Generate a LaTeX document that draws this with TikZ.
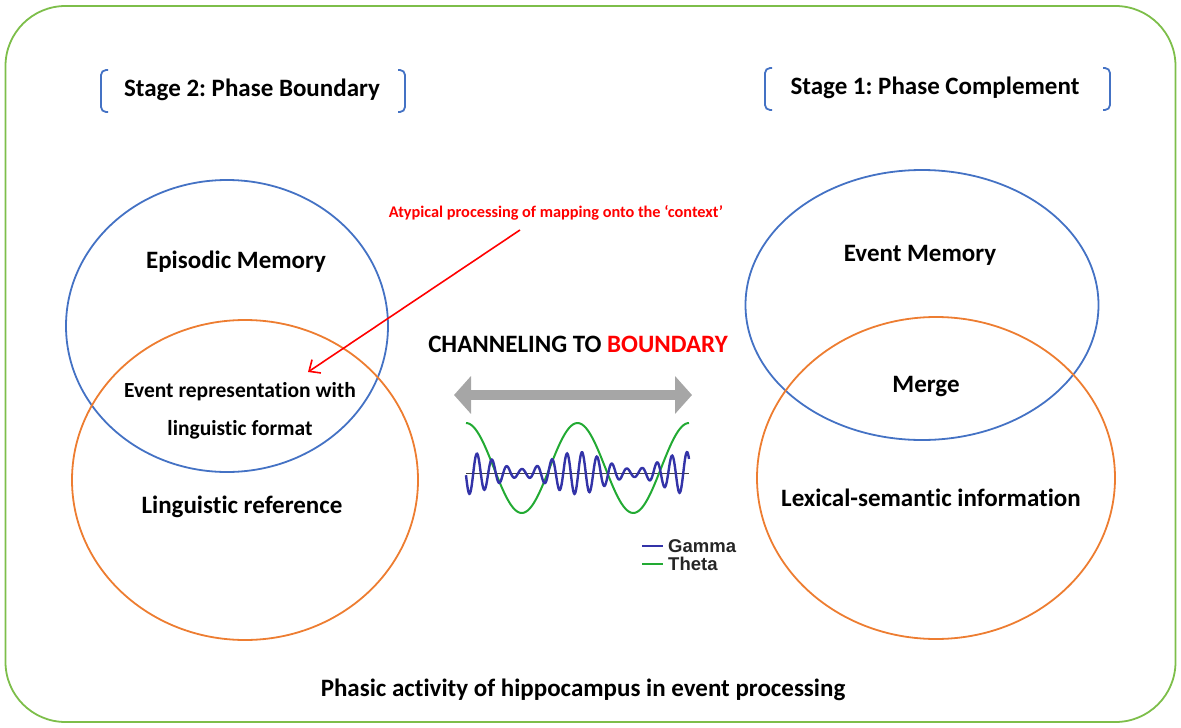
\documentclass[tikz,border=0pt]{standalone}
\usepackage{fontspec}
\setmainfont{Carlito}[Ligatures=NoCommon]
\newfontfamily\arialf{Liberation Sans}
\usetikzlibrary{arrows.meta,shapes.geometric}
\definecolor{obox}{HTML}{7DBE4A}
\definecolor{cblue}{HTML}{4472C4}
\definecolor{corange}{HTML}{ED7D31}
\definecolor{cgray}{HTML}{A6A6A6}
\definecolor{gammac}{HTML}{3333A8}
\definecolor{thetac}{HTML}{22AA33}
\frenchspacing
\begin{document}
\begin{tikzpicture}[x=1pt,y=-1pt,
  bluering/.style={ellipse,draw=cblue,line width=1.8pt},
  orangering/.style={ellipse,draw=corange,line width=1.8pt},
  lbl/.style={font=\bfseries\fontsize{25}{30}\selectfont,align=center},
  smalllbl/.style={font=\bfseries\fontsize{21.5}{25}\selectfont,align=center},
  brk/.style={draw=cblue,line width=1.8pt,rounded corners=5pt},
  legtxt/.style={font=\arialf\bfseries\fontsize{18.5}{20}\selectfont,text=black!85,anchor=west,inner sep=0pt}]
\useasboundingbox (0,0) rectangle (1181,728);
% outer frame
\node[draw=obox,line width=1.8pt,rounded corners=60pt,minimum width=1170pt,minimum height=716pt,inner sep=0pt] (frame) at (590.5,364) {};
% headings
\node[lbl] (st2) at (252,90) {Stage 2: Phase Boundary};
\draw[brk] (108,70) -- (101,70) -- (101,112) -- (108,112);
\draw[brk] (398,70) -- (405,70) -- (405,112) -- (398,112);
\node[lbl] (st1) at (935,88) {Stage 1: Phase Complement};
\draw[brk] (772,68) -- (765,68) -- (765,110) -- (772,110);
\draw[brk] (1103,68) -- (1110,68) -- (1110,110) -- (1103,110);
% ellipses
\node[bluering,minimum width=322pt,minimum height=292pt] (epi) at (227,326) {};
\node[orangering,minimum width=346pt,minimum height=320pt] (lingc) at (245,480) {};
\node[bluering,minimum width=353pt,minimum height=270pt] (evm) at (922,305) {};
\node[orangering,minimum width=358pt,minimum height=322pt] (lexc) at (936,478) {};
% labels
\node[lbl] (tepi) at (236,262) {Episodic Memory};
\node[smalllbl] (tevr) at (240,392) {Event representation with};
\node[smalllbl] (tlf) at (240,430) {linguistic format};
\node[lbl] (tlr) at (242,507) {Linguistic reference};
\node[lbl] (tevm) at (920,255) {Event Memory};
\node[lbl] (tmer) at (926,387) {Merge};
\node[lbl] (tlex) at (931,498) {Lexical-semantic information};
\node[lbl] (chan) at (578,344) {CHANNELING TO \textcolor{red}{BOUNDARY}};
\node[font=\bfseries\fontsize{16.3}{19}\selectfont,text=red] (aty) at (556,213) {Atypical processing of mapping onto the `context'};
\node[lbl] (phas) at (583,690) {Phasic activity of hippocampus in event processing};
% red arrow
\coordinate (ra) at (520,230);
\coordinate (rb) at (308,372);
\draw[red,line width=1.6pt,-{Straight Barb[length=9pt,width=16pt,line width=1.6pt]}] (ra) -- (rb);
% gray double arrow
\coordinate (gl) at (454,395);
\coordinate (gr) at (692,395);
\draw[cgray,line width=10pt,{Triangle[length=17pt,width=37pt]}-{Triangle[length=17pt,width=37pt]}] (gl) -- (gr);
% waves
\coordinate (wl) at (466,473);
\coordinate (wr) at (689,473);
\draw[black!75,line width=0.8pt] (wl) -- (wr);
\draw[thetac,line width=2pt,domain=466:689,samples=120,smooth] plot (\x,{468-45*cos((\x-466)*3.2287)});
\draw[gammac,line width=2.4pt,domain=466:689,samples=400,smooth] plot (\x,{473+(4+8.5*(1+cos((\x-466)*3.2287)))*cos((\x-469.5)*24)});
% legend
\coordinate (g1) at (642,546);
\coordinate (g2) at (663,546);
\coordinate (t1) at (642,564);
\coordinate (t2) at (663,564);
\draw[gammac,line width=2.2pt] (g1) -- (g2);
\draw[thetac,line width=2.2pt] (t1) -- (t2);
\node[legtxt] (lg) at (668,546) {Gamma};
\node[legtxt] (lt) at (668,564) {Theta};
\end{tikzpicture}
\end{document}
